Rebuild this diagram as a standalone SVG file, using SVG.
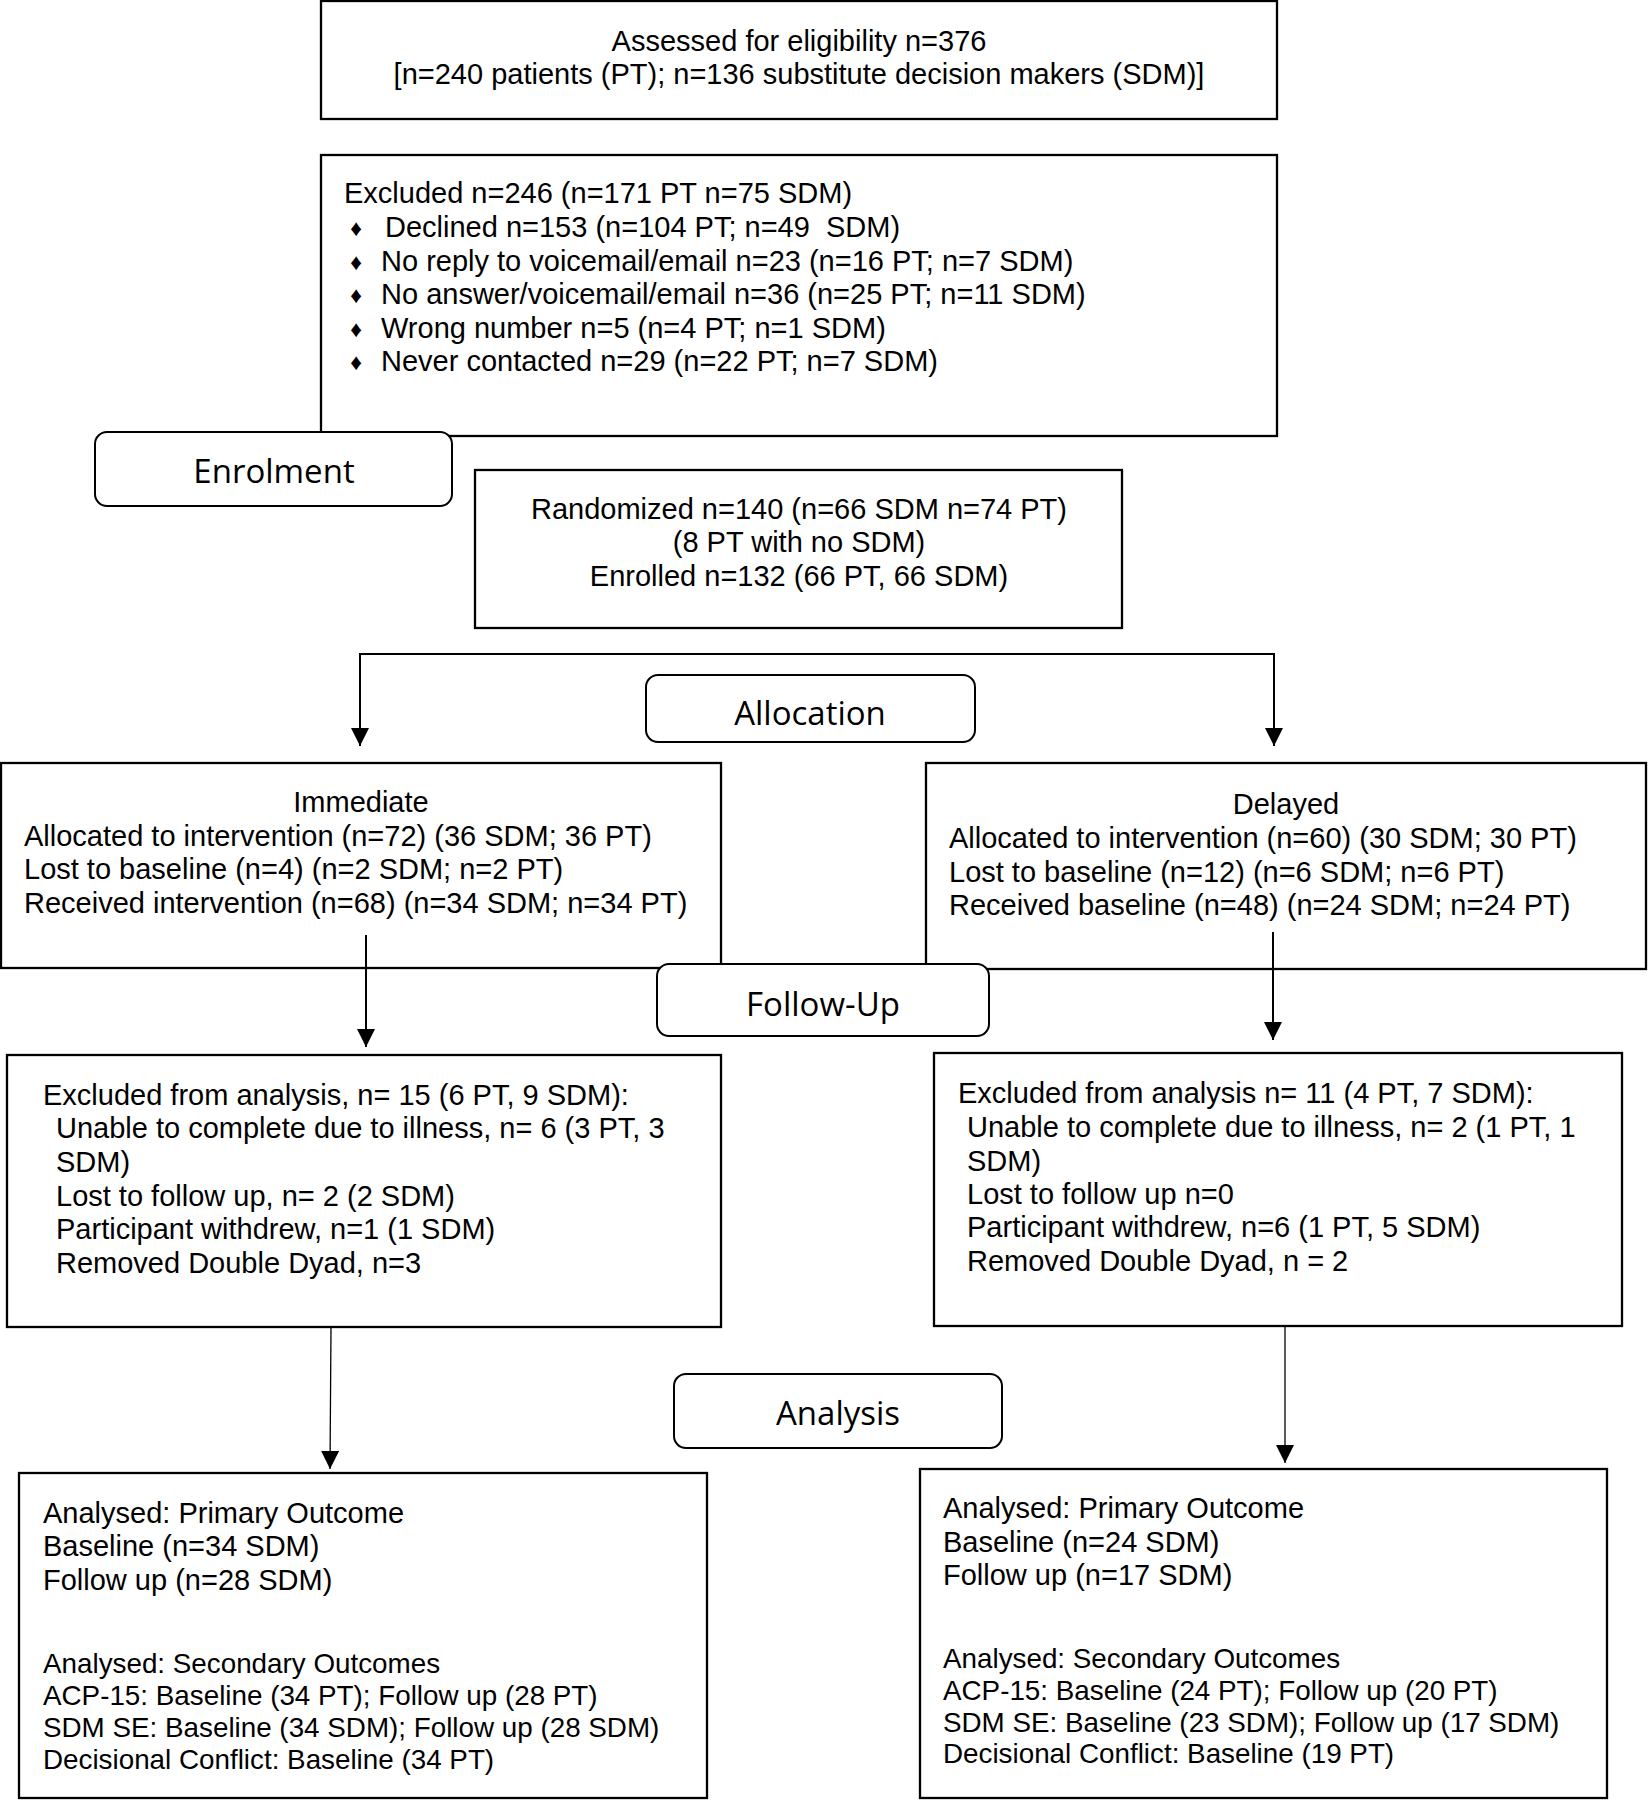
<svg xmlns="http://www.w3.org/2000/svg" width="1648" height="1800" viewBox="0 0 1648 1800">
<style>
.box{fill:#fff;stroke:#000;stroke-width:2.3}
.lbl{fill:#fff;stroke:#000;stroke-width:2}
.t{font-family:"Liberation Sans",Arial,sans-serif;font-size:29px;fill:#000}
.s{font-size:27.8px}
.c{text-anchor:middle}
.b{font-family:"Liberation Sans","DejaVu Sans",sans-serif;font-size:23px;text-anchor:middle}
.h{font-family:"Open Sans","Noto Sans",sans-serif;font-size:33px;text-anchor:middle;fill:#000}
.conn{fill:none;stroke:#000;stroke-width:2}
.thin{stroke-width:1.3}
</style>
<defs>
<marker id="arr" markerUnits="userSpaceOnUse" markerWidth="18" markerHeight="18" viewBox="0 0 16 16" refX="16" refY="8" orient="auto">
<path d="M0,0 L16,8 L0,16 Z" fill="#000"/>
</marker>
</defs>
<rect width="1648" height="1800" fill="#fff"/>

<g id="assessed">
<rect class="box" x="321" y="1" width="956" height="118"/>
<text class="t c" x="799" y="51">Assessed for eligibility n=376</text>
<text class="t c" x="799" y="84">[n=240 patients (PT); n=136 substitute decision makers (SDM)]</text>
</g>

<g id="excluded">
<rect class="box" x="321" y="155" width="956" height="281"/>
<text class="t" x="344" y="203">Excluded n=246 (n=171 PT n=75 SDM)</text>
<text class="b" x="356" y="236">♦</text>
<text class="t" x="385" y="237" xml:space="preserve">Declined n=153 (n=104 PT; n=49  SDM)</text>
<text class="b" x="356" y="270">♦</text>
<text class="t" x="381" y="271">No reply to voicemail/email n=23 (n=16 PT; n=7 SDM)</text>
<text class="b" x="356" y="303">♦</text>
<text class="t" x="381" y="304">No answer/voicemail/email n=36 (n=25 PT; n=11 SDM)</text>
<text class="b" x="356" y="337">♦</text>
<text class="t" x="381" y="338">Wrong number n=5 (n=4 PT; n=1 SDM)</text>
<text class="b" x="356" y="370">♦</text>
<text class="t" x="381" y="371">Never contacted n=29 (n=22 PT; n=7 SDM)</text>
</g>

<g id="enrolment">
<rect class="lbl" x="95" y="432" width="357" height="74" rx="12"/>
<text class="h" x="274" y="483">Enrolment</text>
</g>

<g id="randomized">
<rect class="box" x="475" y="470" width="647" height="158"/>
<text class="t c" x="799" y="519">Randomized n=140 (n=66 SDM n=74 PT)</text>
<text class="t c" x="799" y="552">(8 PT with no SDM)</text>
<text class="t c" x="799" y="586">Enrolled n=132 (66 PT, 66 SDM)</text>
</g>

<g id="allocation">
<rect class="lbl" x="646" y="675" width="329" height="67" rx="12"/>
<text class="h" x="810" y="725">Allocation</text>
</g>

<g id="immediate">
<rect class="box" x="1" y="763" width="720" height="205"/>
<text class="t c" x="361" y="812">Immediate</text>
<text class="t" x="24" y="846">Allocated to intervention (n=72) (36 SDM; 36 PT)</text>
<text class="t" x="24" y="879">Lost to baseline (n=4) (n=2 SDM; n=2 PT)</text>
<text class="t" x="24" y="913">Received intervention (n=68) (n=34 SDM; n=34 PT)</text>
</g>

<g id="delayed">
<rect class="box" x="926" y="763" width="720" height="206"/>
<text class="t c" x="1286" y="814">Delayed</text>
<text class="t" x="949" y="848">Allocated to intervention (n=60) (30 SDM; 30 PT)</text>
<text class="t" x="949" y="882">Lost to baseline (n=12) (n=6 SDM; n=6 PT)</text>
<text class="t" x="949" y="915">Received baseline (n=48) (n=24 SDM; n=24 PT)</text>
</g>

<g id="followup">
<rect class="lbl" x="657" y="964" width="332" height="72" rx="12"/>
<text class="h" x="823" y="1016">Follow-Up</text>
</g>

<g id="excl-left">
<rect class="box" x="7" y="1055" width="714" height="272"/>
<text class="t" x="43" y="1105">Excluded from analysis, n= 15 (6 PT, 9 SDM):</text>
<text class="t" x="56" y="1138">Unable to complete due to illness, n= 6 (3 PT, 3</text>
<text class="t" x="56" y="1172">SDM)</text>
<text class="t" x="56" y="1206">Lost to follow up, n= 2 (2 SDM)</text>
<text class="t" x="56" y="1239">Participant withdrew, n=1 (1 SDM)</text>
<text class="t" x="56" y="1273">Removed Double Dyad, n=3</text>
</g>

<g id="excl-right">
<rect class="box" x="934" y="1053" width="688" height="273"/>
<text class="t" x="958" y="1103">Excluded from analysis n= 11 (4 PT, 7 SDM):</text>
<text class="t" x="967" y="1137">Unable to complete due to illness, n= 2 (1 PT, 1</text>
<text class="t" x="967" y="1171">SDM)</text>
<text class="t" x="967" y="1204">Lost to follow up n=0</text>
<text class="t" x="967" y="1237">Participant withdrew, n=6 (1 PT, 5 SDM)</text>
<text class="t" x="967" y="1271">Removed Double Dyad, n = 2</text>
</g>

<g id="analysis">
<rect class="lbl" x="674" y="1374" width="328" height="74" rx="12"/>
<text class="h" x="838" y="1425">Analysis</text>
</g>

<g id="analysed-left">
<rect class="box" x="19" y="1473" width="688" height="325"/>
<text class="t" x="43" y="1523">Analysed: Primary Outcome</text>
<text class="t" x="43" y="1556">Baseline (n=34 SDM)</text>
<text class="t" x="43" y="1590">Follow up (n=28 SDM)</text>
<text class="t s" x="43" y="1673">Analysed: Secondary Outcomes</text>
<text class="t s" x="43" y="1705">ACP-15: Baseline (34 PT); Follow up (28 PT)</text>
<text class="t s" x="43" y="1737">SDM SE: Baseline (34 SDM); Follow up (28 SDM)</text>
<text class="t s" x="43" y="1769">Decisional Conflict: Baseline (34 PT)</text>
</g>

<g id="analysed-right">
<rect class="box" x="920" y="1469" width="687" height="329"/>
<text class="t" x="943" y="1518">Analysed: Primary Outcome</text>
<text class="t" x="943" y="1552">Baseline (n=24 SDM)</text>
<text class="t" x="943" y="1585">Follow up (n=17 SDM)</text>
<text class="t s" x="943" y="1668">Analysed: Secondary Outcomes</text>
<text class="t s" x="943" y="1700">ACP-15: Baseline (24 PT); Follow up (20 PT)</text>
<text class="t s" x="943" y="1732">SDM SE: Baseline (23 SDM); Follow up (17 SDM)</text>
<text class="t s" x="943" y="1763">Decisional Conflict: Baseline (19 PT)</text>
</g>

<g id="connectors">
<path class="conn" d="M817,654 H360 V746" marker-end="url(#arr)"/>
<path class="conn" d="M817,654 H1274 V746" marker-end="url(#arr)"/>
<path class="conn" d="M366,935 V1047" marker-end="url(#arr)"/>
<path class="conn" d="M1273,932 V1040" marker-end="url(#arr)"/>
<path class="conn thin" d="M331,1327 L330,1469" marker-end="url(#arr)"/>
<path class="conn thin" d="M1285,1326 V1463" marker-end="url(#arr)"/>
</g>
</svg>
